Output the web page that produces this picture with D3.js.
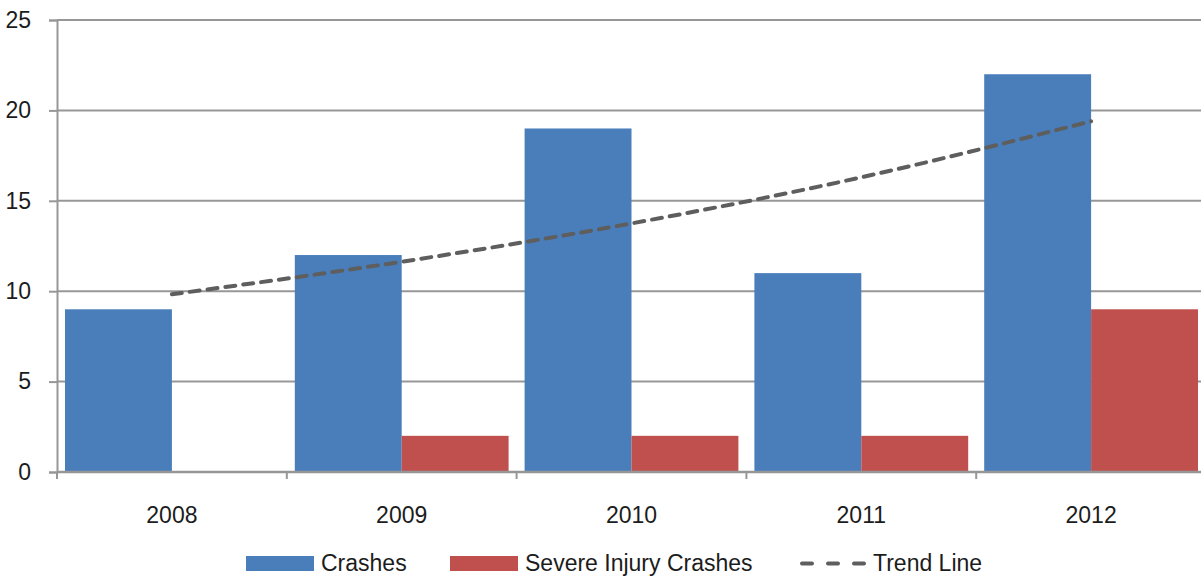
<!DOCTYPE html>
<html>
<head>
<meta charset="utf-8">
<script src="https://cdn.jsdelivr.net/npm/d3@7"></script>
<style>
  body { margin: 0; background: #fff; }
  svg { display: block; font-family: "Liberation Sans", Arial, sans-serif; }
</style>
</head>
<body>
<div id="chart"></div>
<script>
// data
let years = ["2008", "2009", "2010", "2011", "2012"];
let crashes = [9, 12, 19, 11, 22];
let severeCrashes = [0, 2, 2, 2, 9];
let trendLine = [9.83, 11.63, 13.75, 16.3, 19.4];
let yTicks = [0, 5, 10, 15, 20, 25];

let W = 1201, H = 578;
let plot = {left: 57, right: 1206, top: 20, bottom: 472};

let svg = d3.select("#chart")
  .append("svg")
    .attr("width", W)
    .attr("height", H);

let x = d3.scaleBand()
  .domain(years)
  .range([plot.left, plot.right])
  .paddingInner(0)
  .paddingOuter(0);

let sub = d3.scaleBand()
  .domain(["crashes", "severe"])
  .range([8, x.bandwidth() - 8])
  .padding(0);

let y = d3.scaleLinear()
  .domain([0, 25])
  .range([plot.bottom, plot.top]);

let gridColor = "#979797";
let textColor = "#1c1c1c";

// gridlines
svg.append("g")
  .selectAll("line")
  .data(yTicks.filter(d => d > 0))
  .enter().append("line")
    .attr("x1", plot.left)
    .attr("x2", W)
    .attr("y1", d => y(d))
    .attr("y2", d => y(d))
    .attr("stroke", gridColor)
    .attr("stroke-width", 2);

// y axis
let yAxis = svg.append("g")
  .attr("transform", "translate(" + plot.left + ",0)")
  .call(d3.axisLeft(y).tickValues(yTicks).tickSize(8).tickPadding(18));
yAxis.select(".domain").attr("stroke", gridColor).attr("stroke-width", 2);
yAxis.selectAll(".tick line").attr("stroke", gridColor).attr("stroke-width", 2);
yAxis.selectAll(".tick text")
  .attr("fill", textColor)
  .style("font-size", "23px");

// bars
let groups = svg.append("g")
  .selectAll("g")
  .data(years)
  .enter().append("g")
    .attr("transform", d => "translate(" + x(d) + ",0)");

groups.append("rect")
  .attr("x", sub("crashes"))
  .attr("width", sub.bandwidth())
  .attr("y", (d, i) => y(crashes[i]))
  .attr("height", (d, i) => y(0) - y(crashes[i]))
  .attr("fill", "#4a7ebb");

groups.append("rect")
  .attr("x", sub("severe"))
  .attr("width", sub.bandwidth())
  .attr("y", (d, i) => y(severeCrashes[i]))
  .attr("height", (d, i) => y(0) - y(severeCrashes[i]))
  .attr("fill", "#c0504d");

// x axis
let xAxis = svg.append("g")
  .attr("transform", "translate(0," + plot.bottom + ")")
  .call(d3.axisBottom(x).tickSize(0).tickPadding(35));
xAxis.select(".domain").remove();
xAxis.append("line")
  .attr("x1", plot.left)
  .attr("x2", W)
  .attr("stroke", gridColor)
  .attr("stroke-width", 2.5);
xAxis.selectAll(".tick text")
  .attr("fill", textColor)
  .style("font-size", "23px");
xAxis.selectAll(".sep")
  .data(years)
  .enter().append("line")
    .attr("class", "sep")
    .attr("x1", d => x(d))
    .attr("x2", d => x(d))
    .attr("y1", 0)
    .attr("y2", 7)
    .attr("stroke", gridColor)
    .attr("stroke-width", 2);

// trend line
let line = d3.line()
  .x((d, i) => x(years[i]) + x.bandwidth() / 2)
  .y(d => y(d))
  .curve(d3.curveMonotoneX);

svg.append("path")
  .datum(trendLine)
  .attr("d", line)
  .attr("fill", "none")
  .attr("stroke", "#5e5e5e")
  .attr("stroke-width", 4)
  .attr("stroke-linecap", "round")
  .attr("stroke-dasharray", "10,8");

// legend
let legendItems = [
  {label: "Crashes", type: "rect", color: "#4a7ebb", x: 246},
  {label: "Severe Injury Crashes", type: "rect", color: "#c0504d", x: 450},
  {label: "Trend Line", type: "line", color: "#5e5e5e", x: 800}
];

let legend = svg.selectAll(".legend")
  .data(legendItems)
  .enter().append("g")
    .attr("class", "legend")
    .attr("transform", d => "translate(" + d.x + ",556)");

legend.filter(d => d.type === "rect").append("rect")
  .attr("width", 68)
  .attr("height", 15)
  .attr("fill", d => d.color);

legend.filter(d => d.type === "line").append("line")
  .attr("x1", 2)
  .attr("x2", 66)
  .attr("y1", 7.5)
  .attr("y2", 7.5)
  .attr("stroke", d => d.color)
  .attr("stroke-width", 4)
  .attr("stroke-linecap", "round")
  .attr("stroke-dasharray", "10,16");

legend.append("text")
  .attr("x", d => d.type === "line" ? 73 : 75)
  .attr("y", 15)
  .attr("fill", textColor)
  .style("font-size", "23px")
  .text(d => d.label);
</script>
</body>
</html>
